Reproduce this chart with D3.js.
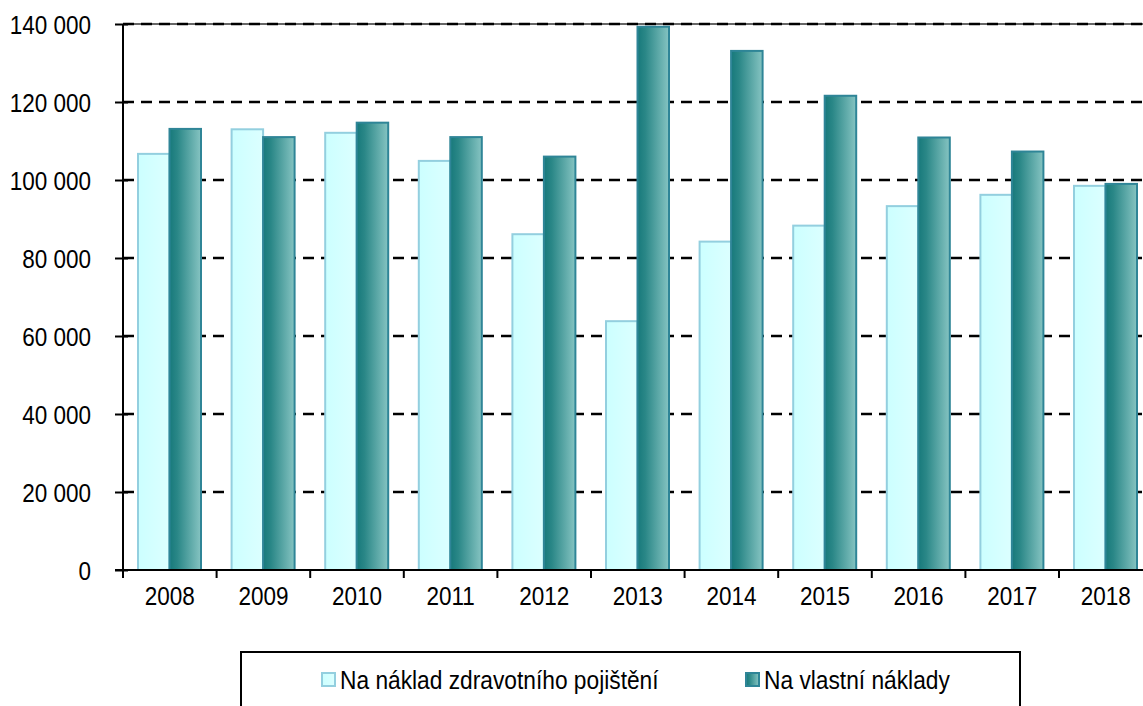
<!DOCTYPE html>
<html>
<head>
<meta charset="utf-8">
<script src="https://cdn.jsdelivr.net/npm/d3@7"></script>
<style>
  body { margin: 0; background: #fff; }
  text { font-family: "Liberation Sans", Arial, sans-serif; fill: #000; }
</style>
</head>
<body>
<div id="chart"></div>
<script>
// Chart data
const years = ["2008", "2009", "2010", "2011", "2012", "2013", "2014", "2015", "2016", "2017", "2018"];
const insurance = [106700, 113000, 112100, 104900, 86100, 63800, 84200, 88300, 93300, 96200, 98500];
const ownCost = [113100, 111000, 114700, 111000, 106000, 139300, 133100, 121600, 110900, 107300, 99000];
const yTicks = [0, 20000, 40000, 60000, 80000, 100000, 120000, 140000];
const seriesNames = ["Na náklad zdravotního pojištění", "Na vlastní náklady"];

const W = 1143, H = 706;
const margin = { top: 24, left: 123, bottom: 136 };
const plotH = H - margin.top - margin.bottom;
const band = 93.6;

const svg = d3.select("#chart").append("svg")
    .attr("width", W)
    .attr("height", H);

// Gradients for the bars
const defs = svg.append("defs");
const gLight = defs.append("linearGradient").attr("id", "gLight");
gLight.append("stop").attr("offset", "0%").attr("stop-color", "#ccffff");
gLight.append("stop").attr("offset", "100%").attr("stop-color", "#dcffff");
const gDark = defs.append("linearGradient").attr("id", "gDark");
gDark.append("stop").attr("offset", "0%").attr("stop-color", "#17797b");
gDark.append("stop").attr("offset", "25%").attr("stop-color", "#2a8787");
gDark.append("stop").attr("offset", "100%").attr("stop-color", "#86c4c2");

const x = d3.scaleBand()
    .domain(years)
    .range([margin.left, margin.left + band * years.length]);

const y = d3.scaleLinear()
    .domain([0, 140000])
    .range([margin.top + plotH, margin.top]);

const fmt = d3.formatLocale({ decimal: ",", thousands: " ", grouping: [3], currency: ["", ""] }).format(",");

// Top border of the plot area
svg.append("line")
    .attr("x1", margin.left).attr("x2", W)
    .attr("y1", y(140000)).attr("y2", y(140000))
    .attr("stroke", "#666").attr("stroke-width", 2);

// Dashed gridlines
svg.append("g")
    .selectAll("line")
    .data(yTicks.filter(d => d > 0))
    .join("line")
    .attr("x1", margin.left)
    .attr("x2", W)
    .attr("y1", d => y(d))
    .attr("y2", d => y(d))
    .attr("stroke", "#000")
    .attr("stroke-width", 2.4)
    .attr("stroke-dasharray", "11,7");

// Bars
const barW = 31.5, off = 15;
svg.append("g")
    .selectAll("rect")
    .data(years)
    .join("rect")
    .attr("x", d => x(d) + off)
    .attr("y", (d, i) => y(insurance[i]))
    .attr("width", barW)
    .attr("height", (d, i) => y(0) - y(insurance[i]))
    .attr("fill", "url(#gLight)")
    .attr("stroke", "#93cfdf")
    .attr("stroke-width", 2);

svg.append("g")
    .selectAll("rect")
    .data(years)
    .join("rect")
    .attr("x", d => x(d) + off + barW)
    .attr("y", (d, i) => y(ownCost[i]))
    .attr("width", barW)
    .attr("height", (d, i) => y(0) - y(ownCost[i]))
    .attr("fill", "url(#gDark)")
    .attr("stroke", "#2f8597")
    .attr("stroke-width", 2);

// Y axis
const yAxis = svg.append("g")
    .attr("transform", `translate(${margin.left},0)`)
    .call(d3.axisLeft(y).tickValues(yTicks).tickFormat(fmt).tickSizeInner(8).tickSizeOuter(0));
yAxis.select(".domain").remove();
yAxis.selectAll(".tick line").attr("x1", 5).attr("stroke-width", 2);
yAxis.selectAll(".tick text")
    .attr("x", -32 / 0.9)
    .attr("dy", "0.36em")
    .attr("font-size", 25)
    .attr("font-family", "Liberation Sans, Arial, sans-serif")
    .attr("transform", "scale(0.9,1)");
svg.append("line")
    .attr("x1", margin.left).attr("x2", margin.left)
    .attr("y1", margin.top).attr("y2", y(0) + 8)
    .attr("stroke", "#000").attr("stroke-width", 2);

// X axis
const xAxis = svg.append("g")
    .attr("transform", `translate(0,${y(0)})`)
    .call(d3.axisBottom(x).tickSize(0));
xAxis.select(".domain").remove();
xAxis.selectAll(".tick text")
    .attr("y", 26)
    .attr("dy", "0.36em")
    .attr("font-size", 25)
    .attr("font-family", "Liberation Sans, Arial, sans-serif")
    .attr("transform", "scale(0.9,1)");
svg.append("line")
    .attr("x1", margin.left - 8).attr("x2", W)
    .attr("y1", y(0)).attr("y2", y(0))
    .attr("stroke", "#000").attr("stroke-width", 2);
svg.append("g")
    .selectAll("line")
    .data(years.slice(1))
    .join("line")
    .attr("x1", d => x(d)).attr("x2", d => x(d))
    .attr("y1", y(0)).attr("y2", y(0) + 8)
    .attr("stroke", "#000").attr("stroke-width", 2);

// Legend
const legend = svg.append("g");
legend.append("rect")
    .attr("x", 241).attr("y", 652)
    .attr("width", 779).attr("height", 70)
    .attr("fill", "#fff").attr("stroke", "#000").attr("stroke-width", 2);

const legendX = [322, 746];
const legendFill = ["url(#gLight)", "url(#gDark)"];
const legendStroke = ["#93cfdf", "#2f8597"];
seriesNames.forEach((name, i) => {
    legend.append("rect")
        .attr("x", legendX[i]).attr("y", 673)
        .attr("width", 13).attr("height", 13)
        .attr("fill", legendFill[i])
        .attr("stroke", legendStroke[i])
        .attr("stroke-width", 2);
    legend.append("text")
        .attr("transform", `translate(${legendX[i] + 18},680) scale(0.91,1)`)
        .attr("dy", "0.36em")
        .attr("font-size", 25)
        .text(name);
});
</script>
</body>
</html>
